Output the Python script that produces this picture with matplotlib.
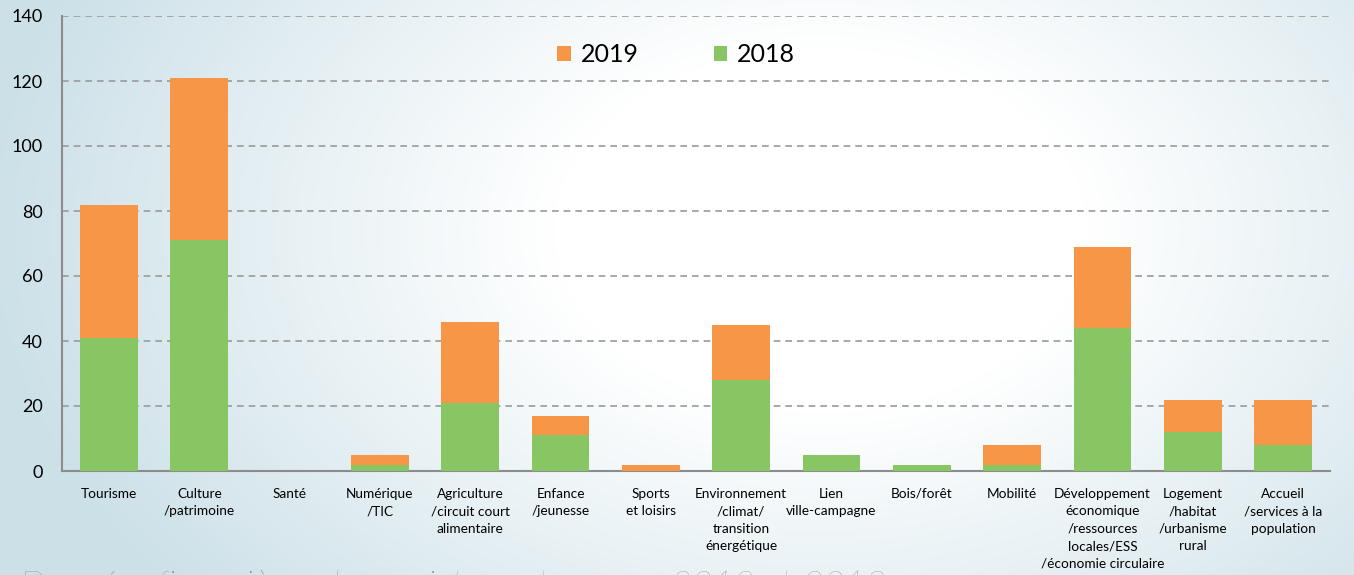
import numpy as np
import matplotlib
matplotlib.use("Agg")
from matplotlib import pyplot as plt

categories = ["Tourisme", "Culture\n/patrimoine", "Santé", "Numérique\n/TIC",
              "Agriculture\n/circuit court\nalimentaire", "Enfance\n/jeunesse",
              "Sports\net loisirs", "Environnement\n/climat/\ntransition\nénergétique",
              "Lien\nville-campagne", "Bois/forêt", "Mobilité",
              "Développement\néconomique\n/ressources\nlocales/ESS\n/économie circulaire",
              "Logement\n/habitat\n/urbanisme\nrural", "Accueil\n/services à la\npopulation"]
v2018 = [41, 71, 0, 2, 21, 11, 0, 28, 5, 2, 2, 44, 12, 8]
v2019 = [41, 50, 0, 3, 25, 6, 2, 17, 0, 0, 6, 25, 10, 14]

plt.rcParams['font.family'] = ['Lato', 'DejaVu Sans']

fig = plt.figure(figsize=(13.54, 5.75), dpi=100)

# background gradient
bg = fig.add_axes([0, 0, 1, 1], zorder=-10)
W, H = 1354, 575
xx, yy = np.meshgrid(np.arange(W), np.arange(H))
d = np.sqrt(((xx - 820) / 760.0) ** 2 + ((yy - 230) / 520.0) ** 2)
t = np.clip((d - 0.35) / 0.75, 0, 1)
c0 = np.array([1.0, 1.0, 1.0])
c1 = np.array([0.80, 0.88, 0.91])
img = c0[None, None, :] * (1 - t[..., None]) + c1[None, None, :] * t[..., None]
bg.imshow(img, aspect='auto', extent=[0, W, H, 0])
bg.axis('off')

ax = fig.add_axes([62 / W, 1 - 471 / H, 1268 / W, 455 / H])
ax.patch.set_alpha(0)
x = np.arange(len(categories))
ax.bar(x, v2018, width=0.64, color='#88C663', label='2018', zorder=3)
ax.bar(x, v2019, width=0.64, bottom=v2018, color='#F79646', label='2019', zorder=3)

ax.set_xlim(-0.52, len(categories) - 0.48)
ax.set_ylim(0, 140)
ax.set_yticks(range(0, 141, 20))
ax.yaxis.grid(True, linestyle=(0, (4, 3)), color='#9a9a9a', linewidth=1.2, zorder=0)
for s in ['top', 'right']:
    ax.spines[s].set_visible(False)
for s in ['left', 'bottom']:
    ax.spines[s].set_color('#8c8c8c')
    ax.spines[s].set_linewidth(1.5)
ax.set_xticks(x)
ax.set_xticklabels(categories, fontsize=9.8, linespacing=1.55)
ax.tick_params(axis='x', length=0, pad=12)
ax.tick_params(axis='y', length=0, pad=14, labelsize=13)

h, l = ax.get_legend_handles_labels()
ax.legend(h[::-1], l[::-1], ncol=2, loc='center', bbox_to_anchor=(676 / W, 1 - 55 / H),
          bbox_transform=fig.transFigure, frameon=False, fontsize=18,
          handlelength=0.55, handleheight=0.55, handletextpad=0.4, columnspacing=3.0)

fig.text(20 / W, 1 - 570 / H, "Données financières des projets soutenus en 2018 et 2019",
         fontsize=26, style='italic', color='#8a8a8a', va='top', ha='left',
         fontweight='light')

fig.savefig("out.png", dpi=100)
